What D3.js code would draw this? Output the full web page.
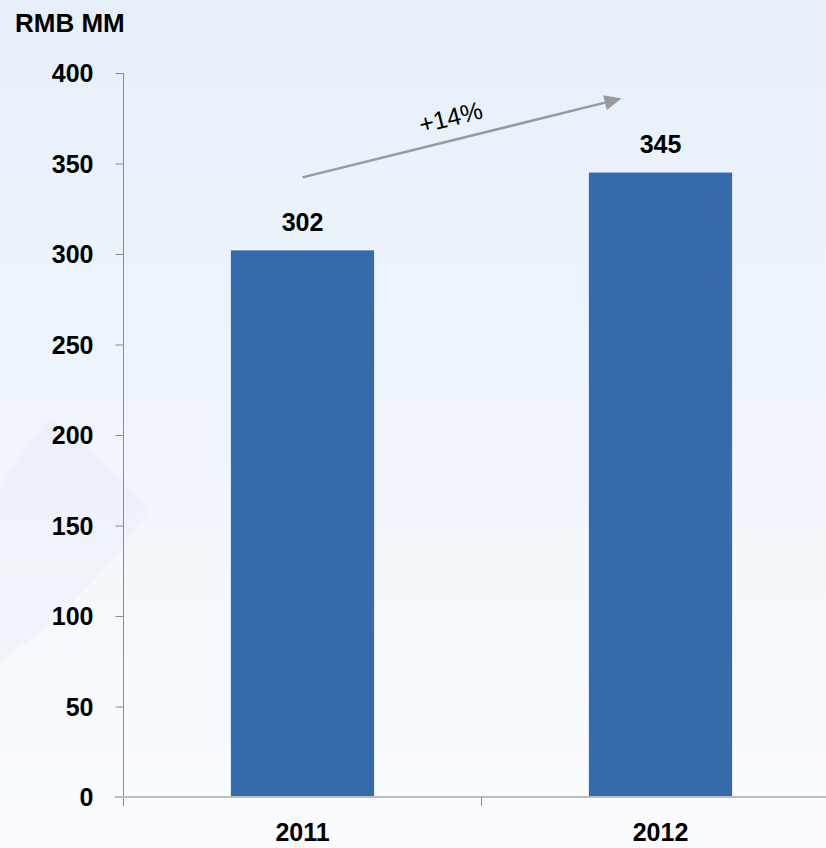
<!DOCTYPE html>
<html>
<head>
<meta charset="utf-8">
<script src="https://cdn.jsdelivr.net/npm/d3@7/dist/d3.min.js"></script>
<style>
  html, body { margin: 0; padding: 0; }
  body { width: 826px; height: 848px; overflow: hidden; }
  svg { display: block; }
</style>
</head>
<body>
<svg id="chart" width="826" height="848"></svg>
<script>
// Revenue by year, RMB millions
const years = ["2011", "2012"];
const revenue = [302, 345];
const yTicks = [0, 50, 100, 150, 200, 250, 300, 350, 400];
const unitLabel = "RMB MM";

const W = 826, H = 848;
const svg = d3.select("#chart");

// soft blue page background
const defs = svg.append("defs");
const bg = defs.append("linearGradient")
  .attr("id", "bg").attr("x1", 0).attr("y1", 0).attr("x2", 0).attr("y2", 1);
bg.append("stop").attr("offset", "0%").attr("stop-color", "#e7f0fa");
bg.append("stop").attr("offset", "35%").attr("stop-color", "#ecf3fb");
bg.append("stop").attr("offset", "70%").attr("stop-color", "#f5f8fd");
bg.append("stop").attr("offset", "100%").attr("stop-color", "#fafcfe");
svg.append("rect").attr("width", W).attr("height", H).attr("fill", "url(#bg)");

// faint decorative swoosh on the left edge
svg.append("path")
  .attr("d", "M0,486 Q22,450 50,418 Q105,455 149,510 Q90,600 0,662 Z")
  .attr("fill", "#c9cdd6")
  .attr("opacity", 0.09);

const font = "'Liberation Sans', Arial, Helvetica, sans-serif";

const y = d3.scaleLinear().domain([0, 400]).range([797, 73]);
const x = d3.scaleBand().domain(years).range([123.5, 839.5])
  .paddingInner(0.6).paddingOuter(0.3);
const step = x.step();

// y axis
const yAxis = svg.append("g").attr("transform", "translate(123.5,0)")
  .call(d3.axisLeft(y).tickValues(yTicks).tickSize(8).tickPadding(22));
yAxis.select(".domain").remove();
yAxis.selectAll(".tick line").attr("stroke", "#8c8c8c").attr("stroke-width", 1);
yAxis.selectAll(".tick text")
  .attr("font-family", font).attr("font-size", 25).attr("font-weight", "bold")
  .attr("fill", "#000").attr("dy", "0.34em");
svg.append("line")
  .attr("x1", 123.5).attr("x2", 123.5).attr("y1", y(400)).attr("y2", 806)
  .attr("stroke", "#8c8c8c").attr("stroke-width", 1);

// bars
svg.selectAll("rect.bar").data(years).enter().append("rect")
  .attr("class", "bar")
  .attr("x", d => x(d))
  .attr("width", x.bandwidth())
  .attr("y", (d, i) => y(revenue[i]))
  .attr("height", (d, i) => y(0) - y(revenue[i]))
  .attr("fill", "#366bab");

// x axis baseline and category separators
svg.append("line")
  .attr("x1", 115).attr("x2", W).attr("y1", y(0)).attr("y2", y(0))
  .attr("stroke", "#bdbdbd").attr("stroke-width", 2);
years.slice(1).forEach(d => {
  const bx = x(d) - x.paddingInner() * step / 2;
  svg.append("line")
    .attr("x1", bx).attr("x2", bx).attr("y1", y(0)).attr("y2", y(0) + 9)
    .attr("stroke", "#8c8c8c").attr("stroke-width", 1);
});

// category labels
svg.selectAll("text.cat").data(years).enter().append("text")
  .attr("class", "cat")
  .attr("x", d => x(d) + x.bandwidth() / 2)
  .attr("y", 841)
  .attr("text-anchor", "middle")
  .attr("font-family", font).attr("font-size", 25).attr("font-weight", "bold")
  .text(d => d);

// value labels
svg.selectAll("text.val").data(years).enter().append("text")
  .attr("class", "val")
  .attr("x", d => x(d) + x.bandwidth() / 2)
  .attr("y", (d, i) => y(revenue[i]) - 19.5)
  .attr("text-anchor", "middle")
  .attr("font-family", font).attr("font-size", 25).attr("font-weight", "bold")
  .text((d, i) => revenue[i]);

// unit label
svg.append("text")
  .attr("x", 15).attr("y", 31.5)
  .attr("font-family", font).attr("font-size", 26).attr("font-weight", "bold")
  .text(unitLabel);

// growth arrow
const x0 = x(years[0]) + x.bandwidth() / 2;
const y0 = y(revenue[0]) - 73;
const x1 = x(years[1]) + x.bandwidth() / 2 - 39;
const y1 = y(revenue[1]) - 74;
const ang = Math.atan2(y1 - y0, x1 - x0);
const headLen = 17, headHalf = 7.5;
const bxh = x1 - headLen * Math.cos(ang), byh = y1 - headLen * Math.sin(ang);
svg.append("line")
  .attr("x1", x0).attr("y1", y0).attr("x2", bxh).attr("y2", byh)
  .attr("stroke", "#9a9a9a").attr("stroke-width", 2.5);
svg.append("path")
  .attr("d", `M${x1},${y1}` +
    `L${bxh - headHalf * Math.sin(ang)},${byh + headHalf * Math.cos(ang)}` +
    `L${bxh + headHalf * Math.sin(ang)},${byh - headHalf * Math.cos(ang)}Z`)
  .attr("fill", "#9a9a9a");

const growth = Math.round((revenue[1] / revenue[0] - 1) * 100);
const tx = 450.7, ty = 117.3;
svg.append("text")
  .attr("transform", `translate(${tx},${ty}) rotate(${ang * 180 / Math.PI})`)
  .attr("text-anchor", "middle").attr("dy", "0.35em")
  .attr("font-family", font).attr("font-size", 25)
  .text("+" + growth + "%");
</script>
</body>
</html>
